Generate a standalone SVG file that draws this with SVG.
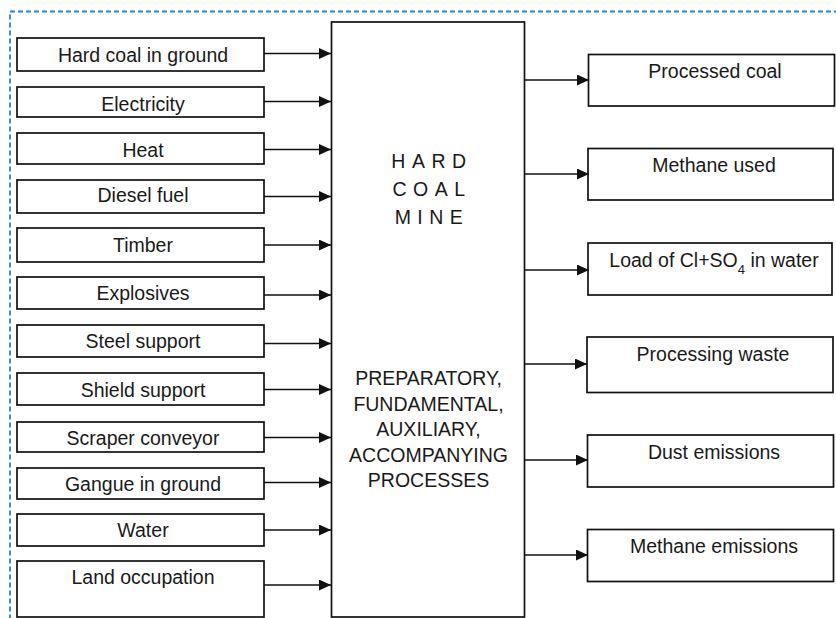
<svg xmlns="http://www.w3.org/2000/svg" width="836" height="618" viewBox="0 0 836 618">
<defs>
<style>
.bx{fill:#fff;stroke:#111;stroke-width:1.7}
.t{font-family:"Liberation Sans",Arial,sans-serif;font-size:19.5px;fill:#1a1a1a;text-anchor:middle}
.c{stroke:#111;stroke-width:1.7;fill:none;marker-end:url(#ah)}
.sp{letter-spacing:6.5px}
</style>
<marker id="ah" markerWidth="12" markerHeight="11" refX="12" refY="5.5" orient="auto" markerUnits="userSpaceOnUse">
<path d="M0,0 L12,5.5 L0,11 Z" fill="#111"/>
</marker>
</defs>
<rect x="10" y="11.5" width="840" height="620" fill="none" stroke="#1f86d6" stroke-width="1.8" stroke-dasharray="5,3"/>

<g id="main">
<rect class="bx" x="331.5" y="22" width="193" height="595"/>
<text class="t sp" x="432" y="168">HARD</text>
<text class="t sp" x="432" y="196">COAL</text>
<text class="t sp" x="432" y="224">MINE</text>
<text class="t" x="428.5" y="385">PREPARATORY,</text>
<text class="t" x="428.5" y="410.5">FUNDAMENTAL,</text>
<text class="t" x="428.5" y="436">AUXILIARY,</text>
<text class="t" x="428.5" y="461.5">ACCOMPANYING</text>
<text class="t" x="428.5" y="487">PROCESSES</text>
</g>

<g id="in1"><rect class="bx" x="17" y="38" width="247" height="33"/><text class="t" x="143" y="61.5">Hard coal in ground</text></g>
<g id="in2"><rect class="bx" x="17" y="87" width="247" height="30"/><text class="t" x="143" y="110.5">Electricity</text></g>
<g id="in3"><rect class="bx" x="17" y="133" width="247" height="31"/><text class="t" x="143" y="156.5">Heat</text></g>
<g id="in4"><rect class="bx" x="17" y="180" width="247" height="33"/><text class="t" x="143" y="202">Diesel fuel</text></g>
<g id="in5"><rect class="bx" x="17" y="228" width="247" height="34"/><text class="t" x="143" y="251.5">Timber</text></g>
<g id="in6"><rect class="bx" x="17" y="277" width="247" height="32"/><text class="t" x="143" y="300">Explosives</text></g>
<g id="in7"><rect class="bx" x="17" y="325" width="247" height="32"/><text class="t" x="143" y="348">Steel support</text></g>
<g id="in8"><rect class="bx" x="17" y="373" width="247" height="32"/><text class="t" x="143" y="396.5">Shield support</text></g>
<g id="in9"><rect class="bx" x="17" y="422" width="247" height="30"/><text class="t" x="143" y="445">Scraper conveyor</text></g>
<g id="in10"><rect class="bx" x="17" y="468" width="247" height="31"/><text class="t" x="143" y="490.5">Gangue in ground</text></g>
<g id="in11"><rect class="bx" x="17" y="514" width="247" height="32"/><text class="t" x="143" y="537">Water</text></g>
<g id="in12"><rect class="bx" x="17" y="561" width="247" height="56"/><text class="t" x="143" y="584">Land occupation</text></g>

<g id="out1"><rect class="bx" x="588.5" y="54.5" width="246" height="51.5"/><text class="t" x="715" y="77.5">Processed coal</text></g>
<g id="out2"><rect class="bx" x="588" y="148.5" width="245" height="51.5"/><text class="t" x="714" y="171.5">Methane used</text></g>
<g id="out3"><rect class="bx" x="588" y="243" width="244" height="52"/><text class="t" x="714" y="266.5">Load of Cl+SO<tspan font-size="13" dy="7">4</tspan><tspan dy="-7"> in water</tspan></text></g>
<g id="out4"><rect class="bx" x="587" y="337" width="246" height="55.5"/><text class="t" x="713" y="360.5">Processing waste</text></g>
<g id="out5"><rect class="bx" x="587.5" y="435" width="246" height="52"/><text class="t" x="714" y="459">Dust emissions</text></g>
<g id="out6"><rect class="bx" x="587.5" y="529.5" width="246" height="52"/><text class="t" x="714" y="552.5">Methane emissions</text></g>

<g id="connectors">
<line class="c" x1="264" y1="53.5" x2="331" y2="53.5"/>
<line class="c" x1="264" y1="101.5" x2="331" y2="101.5"/>
<line class="c" x1="264" y1="149.5" x2="331" y2="149.5"/>
<line class="c" x1="264" y1="196.5" x2="331" y2="196.5"/>
<line class="c" x1="264" y1="245" x2="331" y2="245"/>
<line class="c" x1="264" y1="295" x2="331" y2="295"/>
<line class="c" x1="264" y1="343.5" x2="331" y2="343.5"/>
<line class="c" x1="264" y1="389.5" x2="331" y2="389.5"/>
<line class="c" x1="264" y1="437.5" x2="331" y2="437.5"/>
<line class="c" x1="264" y1="482.5" x2="331" y2="482.5"/>
<line class="c" x1="264" y1="530" x2="331" y2="530"/>
<line class="c" x1="264" y1="585" x2="331" y2="585"/>
<line class="c" x1="524.5" y1="80" x2="589" y2="80"/>
<line class="c" x1="524.5" y1="174" x2="589" y2="174"/>
<line class="c" x1="524.5" y1="270" x2="589" y2="270"/>
<line class="c" x1="524.5" y1="364" x2="587" y2="364"/>
<line class="c" x1="524.5" y1="460" x2="588" y2="460"/>
<line class="c" x1="524.5" y1="555" x2="588" y2="555"/>
</g>
</svg>
